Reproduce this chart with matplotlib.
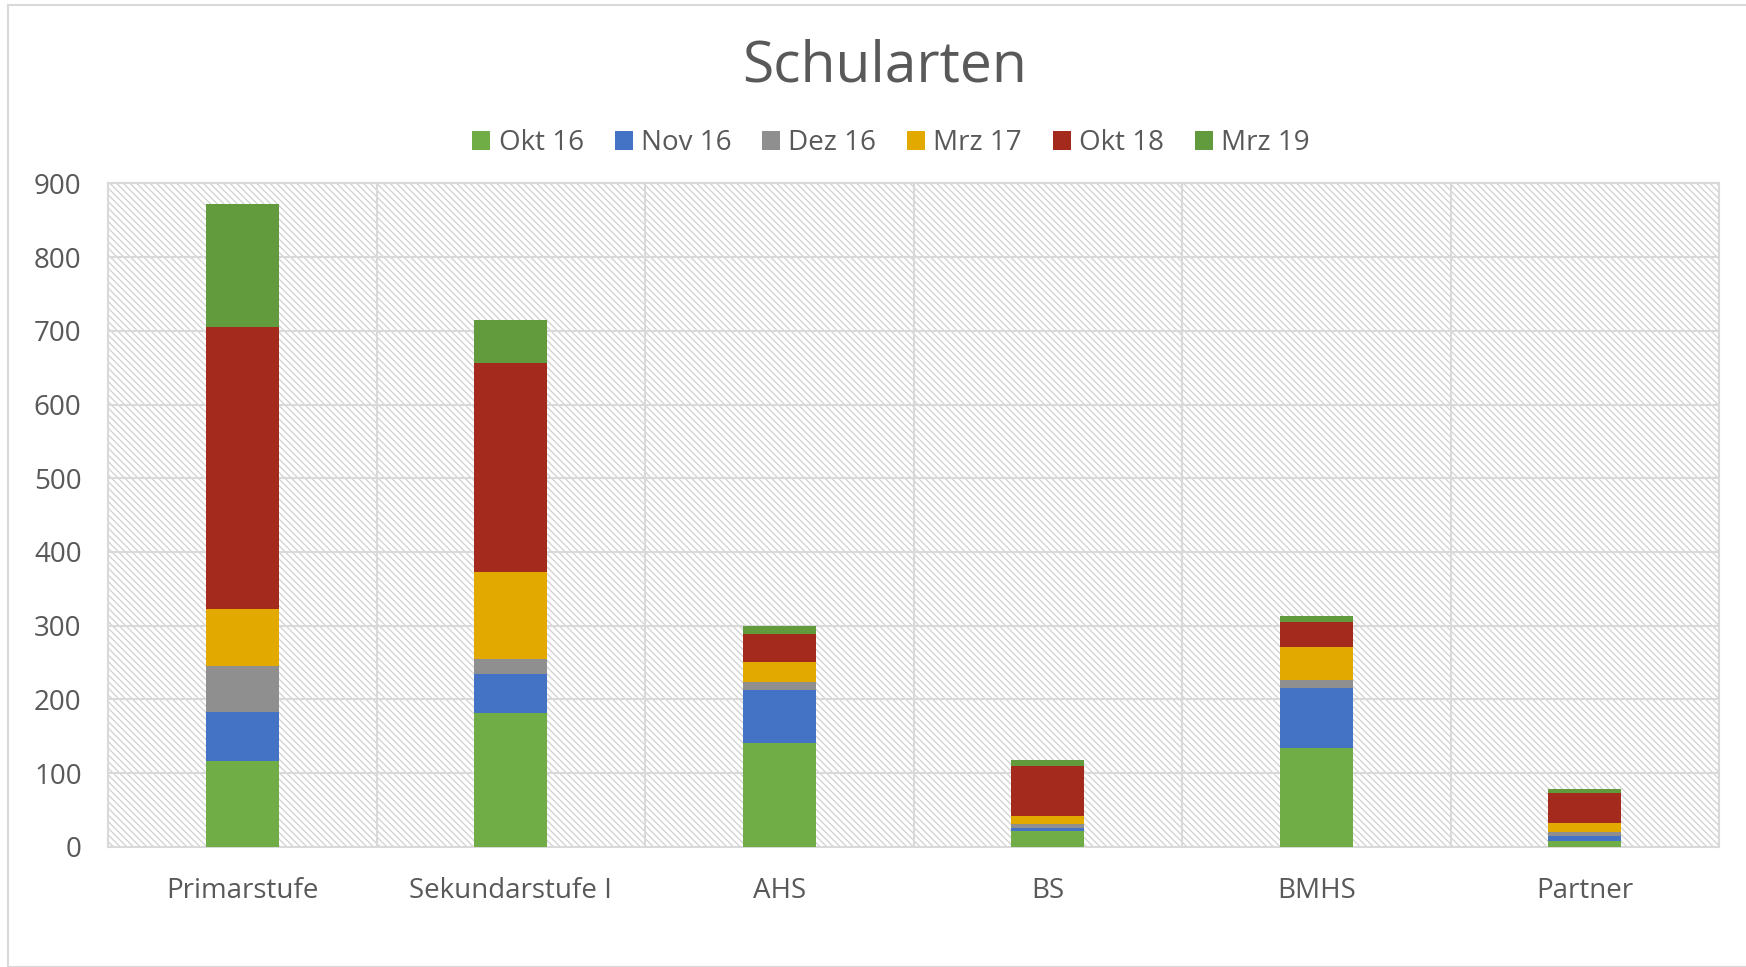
import matplotlib.pyplot as plt
import matplotlib.patches as mpatches
import numpy as np

plt.rcParams['font.family'] = ['Open Sans', 'DejaVu Sans']

kategorien = ['Primarstufe', 'Sekundarstufe I', 'AHS', 'BS', 'BMHS', 'Partner']
serien = ['Okt 16', 'Nov 16', 'Dez 16', 'Mrz 17', 'Okt 18', 'Mrz 19']

okt16 = [116, 182, 141, 21, 134, 8]
nov16 = [67, 53, 72, 5, 82, 7]
dez16 = [62, 20, 11, 5, 10, 5]
mrz17 = [77, 118, 26, 10, 45, 12]
okt18 = [383, 283, 39, 68, 34, 41]
mrz19 = [167, 59, 11, 9, 8, 5]

farben = ['#70AD47', '#4472C4', '#8F8F8F', '#E2AA00', '#A52A1E', '#629A3E']
werte = [okt16, nov16, dez16, mrz17, okt18, mrz19]

W, H = 1746, 967
fig = plt.figure(figsize=(W / 100, H / 100), dpi=100)

# Rahmen um das Diagramm
fig.patches.append(mpatches.Rectangle((8 / W, 0), 1, 1 - 5 / H, transform=fig.transFigure,
                                      fill=False, edgecolor='#D9D9D9', linewidth=1.5))

links, rechts, oben, unten = 108, 1719, 183.5, 846.7
ax = fig.add_axes([links / W, 1 - unten / H, (rechts - links) / W, (unten - oben) / H])

# schraffierter Hintergrund
plt.rcParams['hatch.linewidth'] = 1.0
ax.add_patch(mpatches.Rectangle((0, 0), 1, 1, transform=ax.transAxes, facecolor='white',
                                edgecolor='#D4D4D4', hatch='\\\\\\\\\\', linewidth=0, zorder=0))

x = np.arange(len(kategorien))
unten_werte = np.zeros(len(kategorien))
for name, farbe, w in zip(serien, farben, werte):
    ax.bar(x, w, bottom=unten_werte, width=0.272, color=farbe, label=name, zorder=3)
    unten_werte += np.array(w)

ax.set_xlim(-0.5, len(kategorien) - 0.5)
ax.set_ylim(0, 900)
ax.set_yticks(range(0, 901, 100))
ax.set_xticks(x)
ax.set_xticklabels(kategorien)

# Gitternetz
for yv in range(100, 901, 100):
    ax.axhline(yv, color='#D9D9D9', linewidth=1.5, zorder=1)
for xv in np.arange(0.5, len(kategorien) - 0.5, 1):
    ax.axvline(xv, color='#D9D9D9', linewidth=1.5, zorder=1)

for s in ['top', 'right', 'left', 'bottom']:
    ax.spines[s].set_color('#D9D9D9')
    ax.spines[s].set_linewidth(1.5)
ax.tick_params(axis='both', length=0, labelsize=20, colors='#595959')
ax.tick_params(axis='x', pad=22)
ax.tick_params(axis='y', pad=19)

fig.text(885 / W, 1 - 67 / H, 'Schularten', ha='center', va='center', fontsize=41, color='#595959')

leg = fig.legend(loc='center', bbox_to_anchor=(891 / W, 1 - 143 / H), ncol=6, frameon=False,
                 fontsize=20, handlelength=0.65, handleheight=0.65, handletextpad=0.3,
                 columnspacing=1.1)
for t in leg.get_texts():
    t.set_color('#595959')

fig.savefig('out.png', dpi=100)
